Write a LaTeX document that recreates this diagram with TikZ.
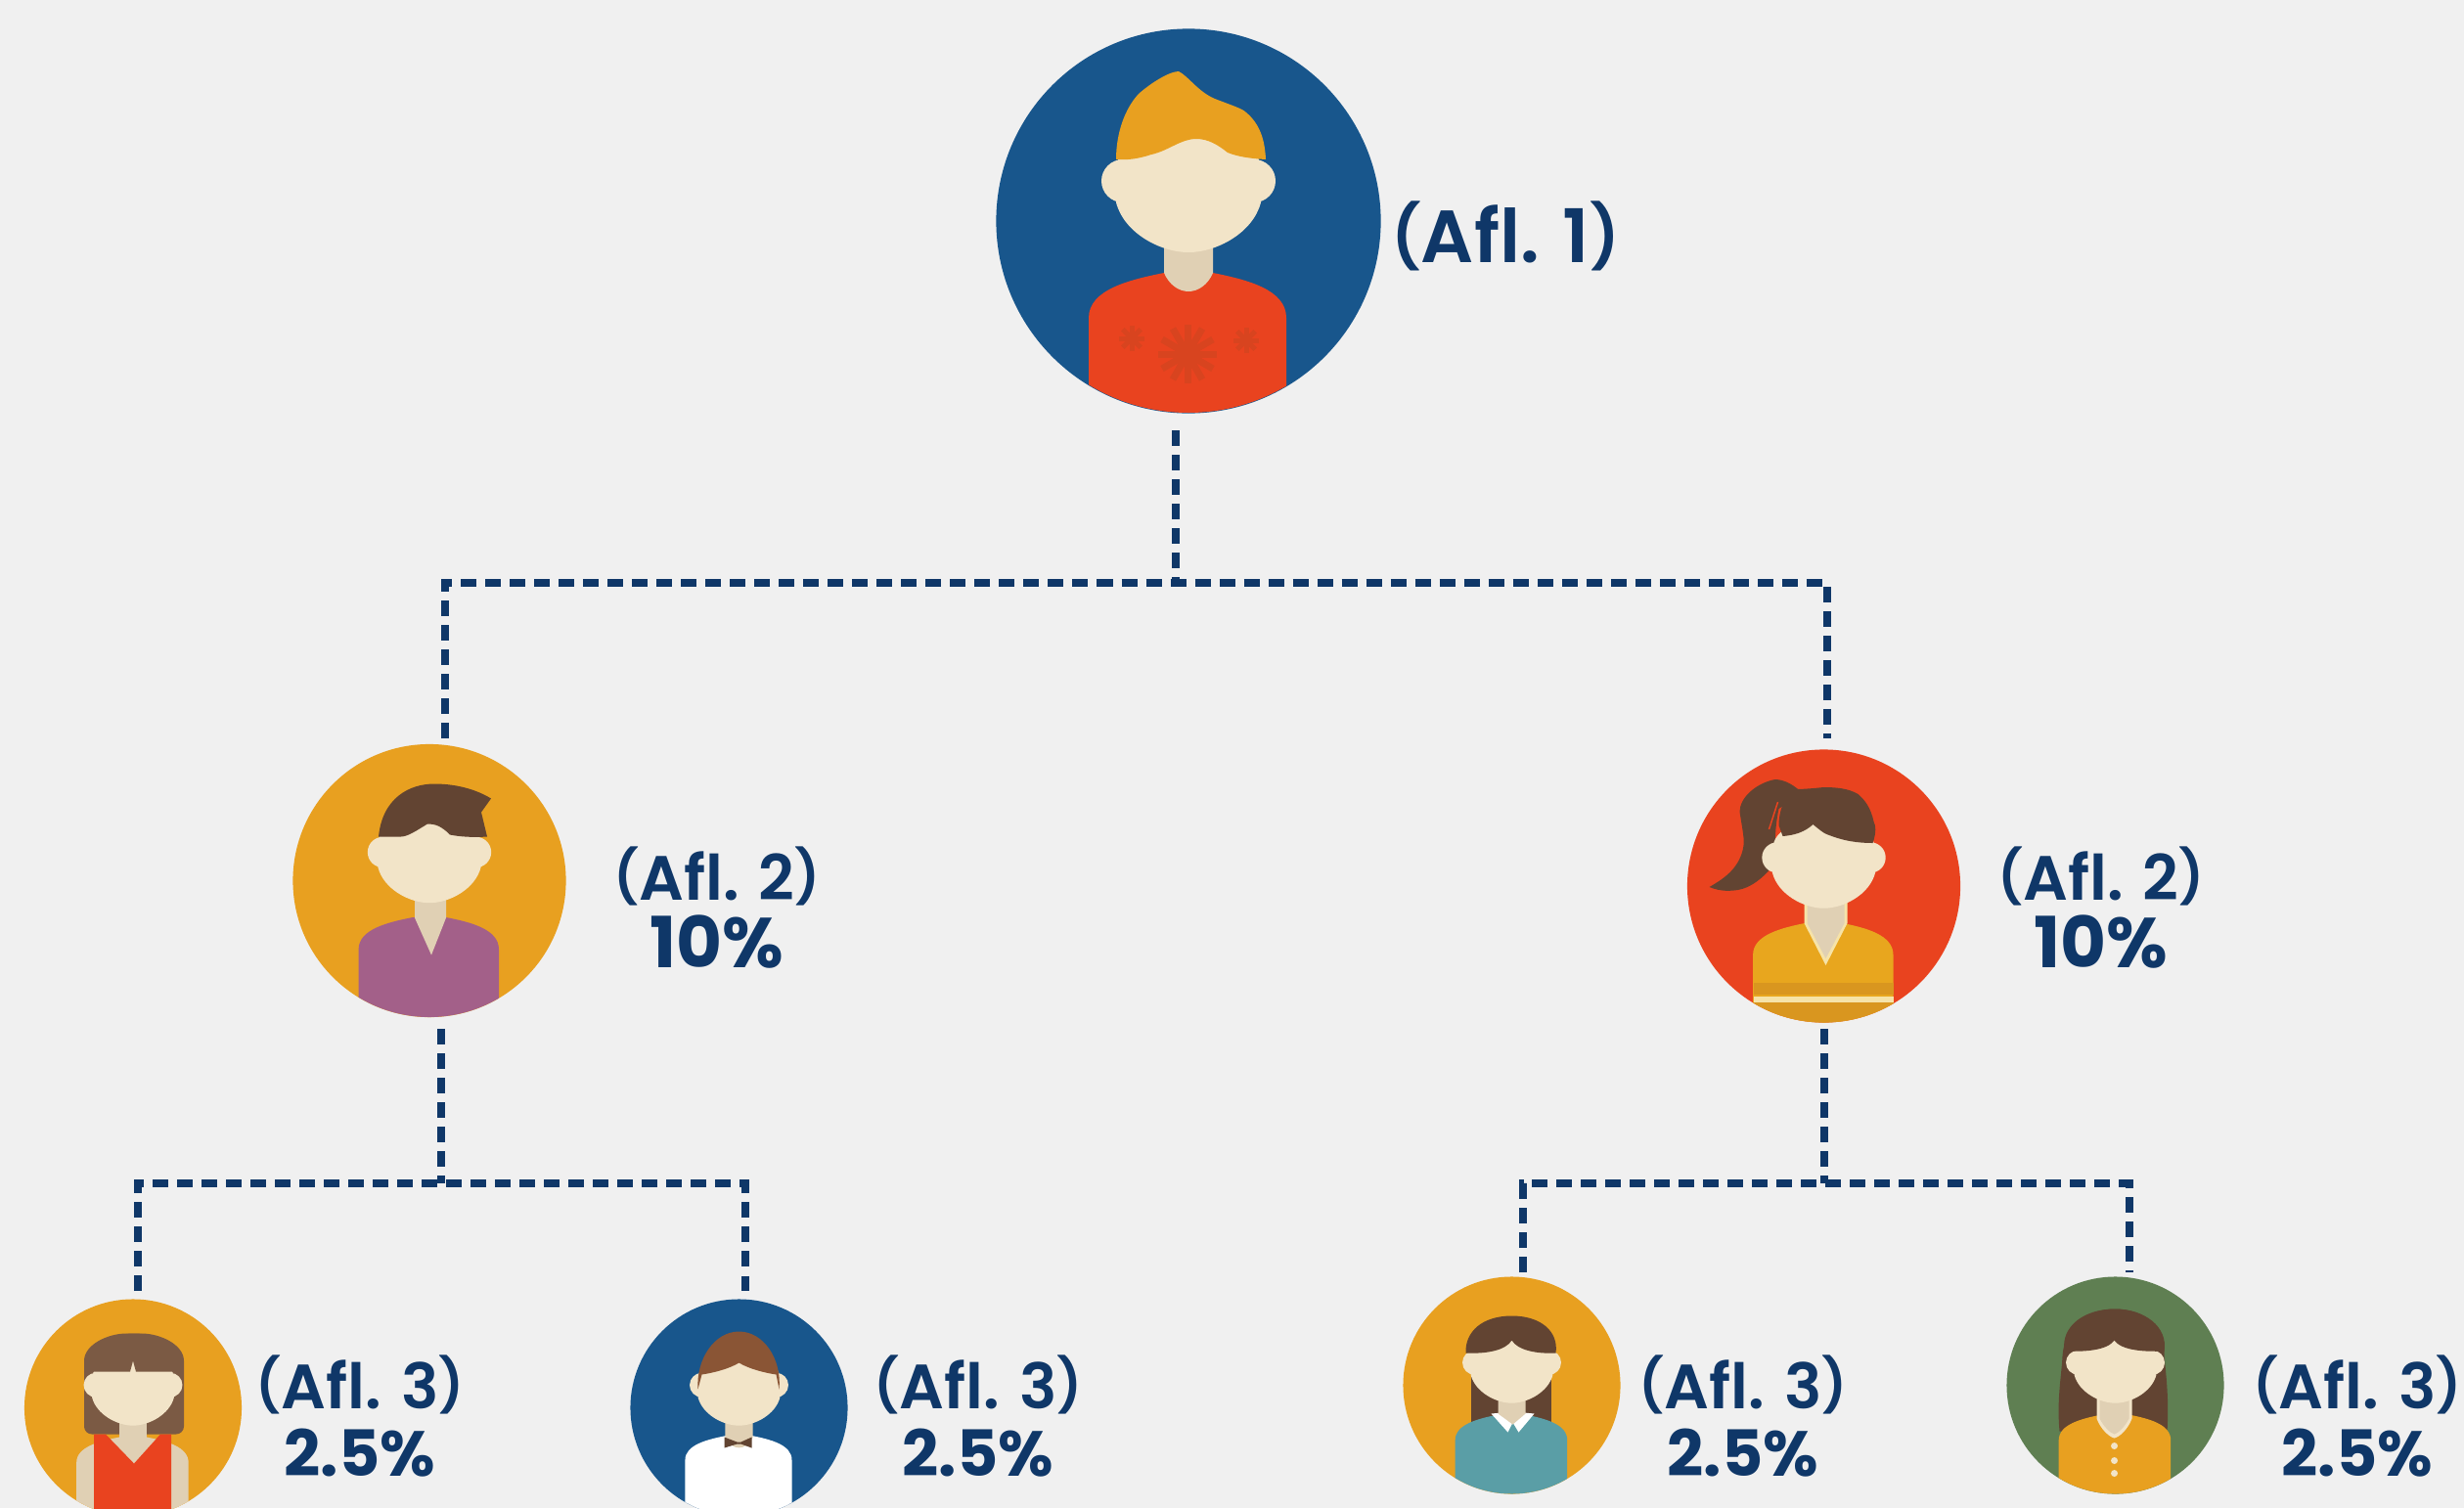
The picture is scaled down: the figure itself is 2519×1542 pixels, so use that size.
\documentclass[tikz,border=0pt]{standalone}
\usepackage{fontspec}
\setmainfont{Poppins}
\newfontfamily\aflfont{Poppins SemiBold}
\usetikzlibrary{positioning}

\definecolor{bgcol}{HTML}{F0F0F0}
\definecolor{navy}{HTML}{0F3768}
\definecolor{seablue}{HTML}{18568C}
\definecolor{amber}{HTML}{E8A020}
\definecolor{amberdark}{HTML}{D9961F}
\definecolor{ambercream}{HTML}{F6E3A8}
\definecolor{sweater}{HTML}{E8A61E}
\definecolor{flame}{HTML}{E9431F}
\definecolor{flamedark}{HTML}{D8441F}
\definecolor{plum}{HTML}{A36089}
\definecolor{moss}{HTML}{5F7F52}
\definecolor{teal}{HTML}{5A9EA6}
\definecolor{skin}{HTML}{F2E4C8}
\definecolor{neckcol}{HTML}{E0D0B4}
\definecolor{brown}{HTML}{624432}
\definecolor{brownlight}{HTML}{7B5A44}
\definecolor{rust}{HTML}{8A5535}

\tikzset{
	disc/.style={circle,inner sep=0pt,minimum size=#1},
	dashlink/.style={draw=navy,line width=0.08cm,dash pattern=on 0.16cm off 0.09cm},
	afltop/.style={text=navy,font=\aflfont\fontsize{21.5}{24}\selectfont},
	afllabel/.style={text=navy,align=center,font=\aflfont\fontsize{18.2}{19.6}\selectfont}
}
\def\afltag#1{\raisebox{1.2pt}{\scalebox{0.84}{(}}Afl. #1\raisebox{1.2pt}{\scalebox{0.84}{)}}}
\def\pctbig#1{{\rmfamily\bfseries\fontsize{20.5}{19.6}\selectfont #1}}
\def\pctmid#1{{\rmfamily\bfseries\fontsize{18.5}{19.6}\selectfont #1}}

% parts of a figure, drawn round the centre of its disc
\def\bodypart[#1]#2{\fill[#2,scale=#1] (-102,260) -- (-102,99) .. controls (-102,70) and (-60,60) .. (-25,53) -- (25,53) .. controls (60,60) and (100,70) .. (100,99) -- (100,260) -- cycle;}
\def\neckpart[#1]{\fill[neckcol,scale=#1] (-25,15) -- (-25,53) .. controls (-20,65) and (-10,72) .. (0,72) .. controls (10,72) and (20,65) .. (25,53) -- (25,15) -- cycle;}
\def\headpart[#1]{
	\fill[skin,scale=#1] (-67,-41) circle (22) (67,-41) circle (22);
	\fill[skin,scale=#1] (-73,-55) -- (-74,-19) .. controls (-66,12) and (-29,32) .. (0,32) .. controls (29,32) and (66,12) .. (74,-19) -- (73,-55) .. controls (73,-80) and (40,-95) .. (0,-95) .. controls (-40,-95) and (-73,-80) .. (-73,-55) -- cycle;
}

\begin{document}
\begin{tikzpicture}[x=0.01cm,y=-0.01cm]
	\useasboundingbox (0,0) rectangle (2519,1542);
	\fill[bgcol] (0,0) rectangle (2519,1542);
	
	%%%%% DISCS %%%%%
	\node[disc=3.93cm,fill=seablue] (afl1) at (1215,226) {};
	\node[disc=2.79cm,fill=amber] (afl2l) at (439,900.5) {};
	\node[disc=2.79cm,fill=flame] (afl2r) at (1864.5,906) {};
	\node[disc=2.22cm,fill=amber] (afl3a) at (136,1439.5) {};
	\node[disc=2.22cm,fill=seablue] (afl3b) at (755.5,1439.5) {};
	\node[disc=2.22cm,fill=amber] (afl3c) at (1545.5,1416.5) {};
	\node[disc=2.22cm,fill=moss] (afl3d) at (2162.5,1416.5) {};
	
	%%%%% FIGURE 1 %%%%%
	\begin{scope}[shift={(afl1.center)}]
		\clip (0,0) circle (196);
		\bodypart[1]{flame}
		\foreach \a in {0,30,...,150} \draw[flamedark,line width=0.07cm] (-1,136) ++(\a:30) -- ++(\a+180:60);
		\foreach \a in {0,45,...,135} \draw[flamedark,line width=0.05cm] (-58,120) ++(\a:13) -- ++(\a+180:26);
		\foreach \a in {0,45,...,135} \draw[flamedark,line width=0.05cm] (59,122) ++(\a:13) -- ++(\a+180:26);
		\neckpart[1]
		\headpart[1]
		\fill[amber] (-74,-63) .. controls (-74,-90) and (-65,-115) .. (-51,-130) .. controls (-40,-140) and (-20,-153) .. (-10,-153) .. controls (0,-148) and (10,-132) .. (27,-125) .. controls (45,-118) and (55,-115) .. (59,-111) .. controls (72,-100) and (78,-85) .. (79,-63) .. controls (62,-64) and (50,-66) .. (40,-70) .. controls (30,-78) and (20,-84) .. (8,-84) .. controls (-8,-84) and (-20,-72) .. (-38,-68) .. controls (-50,-64) and (-62,-62) .. (-74,-63) -- cycle;
	\end{scope}
	
	%%%%% FIGURE 2 LEFT %%%%%
	\begin{scope}[shift={(afl2l.center)}]
		\clip (0,0) circle (139.5);
		\bodypart[0.71]{plum}
		\fill[neckcol] (-15,5) -- (-15,38) -- (2,76) -- (17,38) -- (17,5) -- cycle;
		\headpart[0.71]
		\fill[brown] (-52,-45) .. controls (-48,-85) and (-20,-99) .. (5,-99) .. controls (30,-99) and (50,-92) .. (63,-84) -- (53,-70) -- (59,-45) .. controls (45,-44) and (30,-45) .. (21,-47) .. controls (12,-56) and (6,-58) .. (-2,-58) .. controls (-12,-52) and (-22,-45) .. (-29,-45) -- cycle;
	\end{scope}
	
	%%%%% FIGURE 2 RIGHT %%%%%
	\begin{scope}[shift={(afl2r.center)}]
		\clip (0,0) circle (139.5);
		\fill[brown] (-50,-109) .. controls (-70,-105) and (-86,-90) .. (-86,-76) .. controls (-82,-50) and (-80,-45) .. (-84,-33) .. controls (-90,-15) and (-105,-6) .. (-117,1) .. controls (-105,6) and (-95,5) .. (-88,4) .. controls (-75,2) and (-62,-8) .. (-50,-23) .. controls (-50,-45) and (-50,-60) .. (-46,-79) -- (-22,-95) .. controls (-30,-103) and (-40,-109) .. (-50,-109) -- cycle;
		\bodypart[0.71]{sweater}
		\fill[amberdark] (-72,99) rectangle (71,111);
		\fill[amberdark] (-72,119) rectangle (71,160);
		\fill[ambercream] (-72,113) rectangle (71,119);
		\fill[ambercream] (-20,5) -- (-20,38) -- (2,81) -- (24,38) -- (24,5) -- cycle;
		\fill[neckcol] (-17,5) -- (-17,38) -- (2,74) -- (21,38) -- (21,5) -- cycle;
		\headpart[0.71]
		\fill[brown] (-42,-51) .. controls (-30,-52) and (-20,-55) .. (-11,-63) .. controls (-5,-58) and (0,-54) .. (3,-53) .. controls (20,-46) and (35,-44) .. (50,-44) .. controls (54,-55) and (53,-62) .. (51,-66) .. controls (48,-80) and (42,-88) .. (35,-94) .. controls (25,-100) and (12,-101) .. (0,-101) .. controls (-10,-100) and (-20,-99) .. (-30,-99) .. controls (-42,-90) and (-46,-75) .. (-46,-62) -- cycle;
		\draw[flame,line width=0.015cm] (-47,-86) -- (-56,-58);
	\end{scope}
	
	%%%%% FIGURE 3 A %%%%%
	\begin{scope}[shift={(afl3a.center)}]
		\clip (0,0) circle (111);
		\fill[brownlight,rounded corners=0.08cm] (-50,27) -- (-50,-40) .. controls (-50,-65) and (-25,-76) .. (1,-76) .. controls (27,-76) and (52,-65) .. (52,-40) -- (52,27) -- cycle;
		\bodypart[0.567]{neckcol}
		\fill[flame] (-40,120) -- (-40,27) -- (-28,27) -- (1,57) -- (28,27) -- (39,27) -- (39,120) -- cycle;
		\fill[neckcol] (-14,10) rectangle (14,36);
		\headpart[0.567]
		\fill[brownlight] (-48,-37) -- (-3,-37) -- (0,-48) -- (3,-37) -- (50,-37) .. controls (52,-60) and (30,-76) .. (1,-76) .. controls (-28,-76) and (-50,-60) .. (-48,-37) -- cycle;
	\end{scope}
	
	%%%%% FIGURE 3 B %%%%%
	\begin{scope}[shift={(afl3b.center)}]
		\clip (0,0) circle (111);
		\bodypart[0.54]{white}
		\neckpart[0.567]
		\headpart[0.567]
		\fill[rust] (-42,-19) .. controls (-44,-50) and (-25,-78) .. (0,-78) .. controls (25,-78) and (44,-50) .. (41,-19) -- (38,-34) .. controls (25,-36) and (10,-40) .. (0,-46) .. controls (-10,-40) and (-25,-36) .. (-38,-34) -- cycle;
		\fill[brown] (-15,30) -- (-2,35) -- (2,35) -- (13,30) -- (13,41) -- (2,37) -- (-2,37) -- (-15,41) -- cycle;
	\end{scope}
	
	%%%%% FIGURE 3 C %%%%%
	\begin{scope}[shift={(afl3c.center)}]
		\clip (0,0) circle (111);
		\fill[brown] (-42,-20) -- (-42,40) -- (40,40) -- (40,-20) -- cycle;
		\bodypart[0.567]{teal}
		\fill[white] (-21,29) -- (2,27) -- (23,29) -- (7,48) -- (1,38) -- (-4,48) -- cycle;
		\fill[neckcol] (-14,10) -- (-14,29) -- (1,40) -- (14,29) -- (14,10) -- cycle;
		\headpart[0.567]
		\fill[brown] (-47,-33) .. controls (-25,-32) and (-6,-36) .. (0,-46) .. controls (6,-36) and (25,-32) .. (45,-33) .. controls (48,-55) and (30,-71) .. (0,-71) .. controls (-30,-71) and (-48,-55) .. (-47,-33) -- cycle;
	\end{scope}
	
	%%%%% FIGURE 3 D %%%%%
	\begin{scope}[shift={(afl3d.center)}]
		\clip (0,0) circle (111);
		\fill[brown] (-57,47) .. controls (-60,15) and (-55,-10) .. (-54,-30) .. controls (-52,-60) and (-30,-78) .. (0,-78) .. controls (30,-78) and (52,-60) .. (50,-30) .. controls (52,-10) and (55,15) .. (53,47) -- cycle;
		\bodypart[0.567]{amber}
		\fill[skin] (-19,10) -- (-19,34) .. controls (-15,45) and (-6,53) .. (-1,54) .. controls (4,53) and (13,45) .. (17,34) -- (17,10) -- cycle;
		\fill[neckcol] (-16,10) -- (-16,34) .. controls (-12,42) and (-5,49) .. (-1,50) .. controls (3,49) and (10,42) .. (14,34) -- (14,10) -- cycle;
		\headpart[0.567]
		\fill[brown] (-52,-35) .. controls (-30,-34) and (-8,-36) .. (-1,-46) .. controls (6,-36) and (28,-34) .. (50,-35) .. controls (54,-60) and (30,-78) .. (-1,-78) .. controls (-32,-78) and (-56,-60) .. (-52,-35) -- cycle;
		\foreach \b in {62,77,90} \fill[skin] (-1,\b) circle (3.5);
	\end{scope}
	
	%%%%% LABELS %%%%%
	\node[afltop] (lab1) at (1539,241) {\afltag{1}};
	\node[afllabel] (lab2l) at (733,928) {\afltag{2}\\\pctbig{10\%}};
	\node[afllabel] (lab2r) at (2148,928) {\afltag{2}\\\pctbig{10\%}};
	\node[afllabel] (lab3a) at (368,1448) {\afltag{3}\\\pctmid{2.5\%}};
	\node[afllabel] (lab3b) at (1000,1448) {\afltag{3}\\\pctmid{2.5\%}};
	\node[afllabel] (lab3c) at (1782,1448) {\afltag{3}\\\pctmid{2.5\%}};
	\node[afllabel] (lab3d) at (2410,1448) {\afltag{3}\\\pctmid{2.5\%}};
	
	%%%%% CONNECTORS %%%%%
	\coordinate (stem1) at (1202,440);
	\coordinate (join1) at (1202,596);
	\coordinate (drop2l) at (455,755);
	\coordinate (drop2r) at (1868,755);
	\coordinate (stem2l) at (451,1052);
	\coordinate (join2l) at (451,1210);
	\coordinate (drop3a) at (141,1320);
	\coordinate (drop3b) at (762,1320);
	\coordinate (stem2r) at (1865,1052);
	\coordinate (join2r) at (1865,1210);
	\coordinate (drop3c) at (1557,1301);
	\coordinate (drop3d) at (2177,1301);
	
	\draw[dashlink] (stem1) -- (join1);
	\draw[dashlink] (drop2l) |- (join1) -| (drop2r);
	\draw[dashlink] (stem2l) -- (join2l);
	\draw[dashlink] (drop3a) |- (join2l) -| (drop3b);
	\draw[dashlink] (stem2r) -- (join2r);
	\draw[dashlink] (drop3c) |- (join2r) -| (drop3d);
\end{tikzpicture}
\end{document}
